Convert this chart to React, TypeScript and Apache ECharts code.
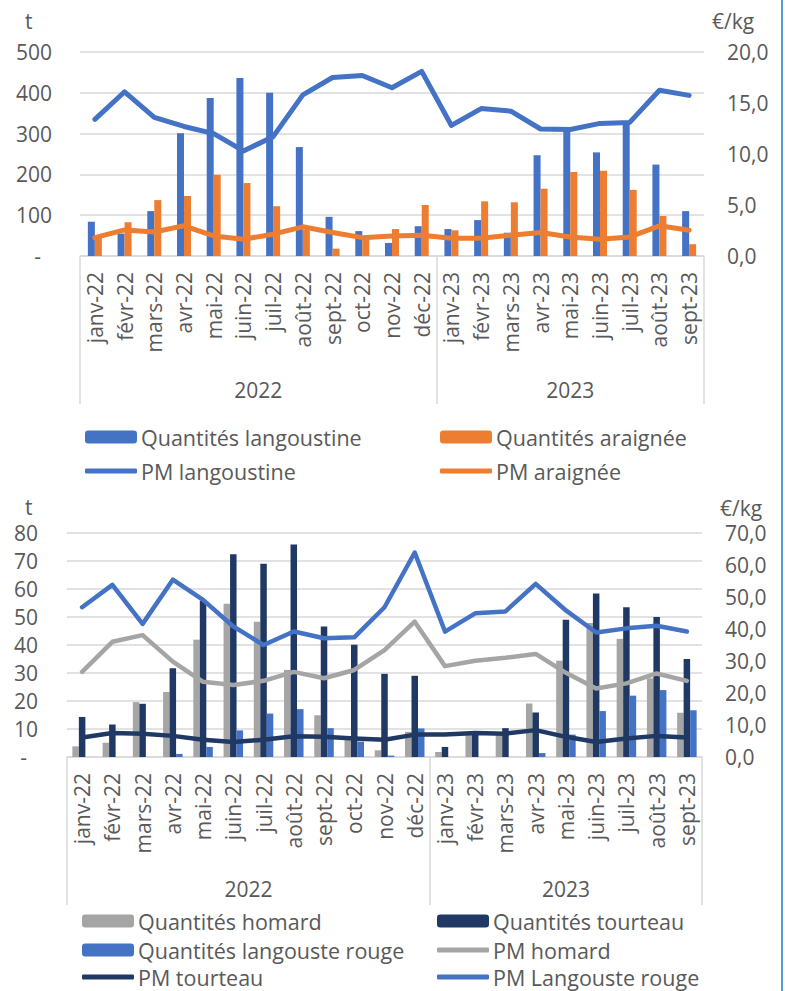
import React, { useEffect, useRef } from 'react';
import * as echarts from 'echarts';

const months = ['janv-22','févr-22','mars-22','avr-22','mai-22','juin-22','juil-22','août-22','sept-22','oct-22','nov-22','déc-22','janv-23','févr-23','mars-23','avr-23','mai-23','juin-23','juil-23','août-23','sept-23'];
const years = ['2022', '2023'];

// Top chart
const qLangoustine = [84,55,110,301,387,436,400,267,96,61,32,73,66,88,57,247,310,254,326,224,110];
const qAraignee = [50,83,137,147,199,179,122,65,18,45,66,125,63,134,132,165,206,209,162,98,29];
const pmLangoustine = [13.4,16.1,13.6,12.7,12.0,10.3,11.7,15.8,17.5,17.7,16.5,18.1,12.8,14.45,14.2,12.45,12.4,13.0,13.1,16.25,15.75];
const pmAraignee = [1.8,2.56,2.36,2.96,1.97,1.64,2.14,2.86,2.3,1.8,1.97,2.04,1.74,1.74,2.04,2.3,1.87,1.64,1.87,2.96,2.53];

// Bottom chart
const qHomard = [3.8,5.1,19.6,23.2,41.9,54.7,48.3,31.1,14.9,6.7,2.4,9.0,1.8,8.0,8.0,19.1,34.4,47.9,42.2,28.1,15.8];
const qTourteau = [14.3,11.6,19.0,31.7,55.8,72.4,69.0,75.9,46.6,40.1,29.7,29.0,3.6,8.5,10.3,15.9,49.0,58.4,53.5,50.0,35.0];
const qLangouste = [0,0,0,1.1,3.6,9.5,15.5,17.1,10.3,5.5,0.5,10.2,0,0,0,1.4,8.0,16.4,21.9,23.9,16.7];
const pmHomard = [26.6,36.0,38.1,29.8,23.5,22.5,23.8,26.6,24.6,27.2,33.4,42.3,28.4,30.1,31.0,32.2,26.3,21.4,23.0,26.1,23.8];
const pmTourteau = [6.1,7.5,7.3,6.6,5.4,4.7,5.4,6.5,6.3,5.8,5.4,7.0,7.0,7.5,7.3,8.4,6.3,4.7,5.8,6.6,6.1];
const pmLangouste = [46.8,53.8,41.6,55.4,49.1,40.8,35.0,39.2,37.1,37.4,46.8,63.9,39.2,44.9,45.5,54.1,45.8,38.9,40.2,41.0,39.2];

const FONT = 'Open Sans';
const TXT = '#595959';
const GRID = '#d9d9d9';
const BLUE = '#4472C4';
const ORANGE = '#ED7D31';
const GRAY = '#A5A5A5';
const NAVY = '#203864';

const yearSplit = [0, 12, 21];
const yearCenters = [6, 16.5];

function monthAxis(gridIndex: number) {
  return {
    type: 'category', gridIndex, data: months, boundaryGap: true,
    axisLine: { lineStyle: { color: GRID, width: 1.5 } },
    axisTick: { show: false },
    axisLabel: { rotate: 90, fontSize: 21, margin: 16, color: TXT, fontFamily: FONT },
  };
}
function yearAxis(gridIndex: number, tickLen: number, labelMargin: number) {
  return {
    type: 'value', gridIndex, min: 0, max: 21, position: 'bottom',
    axisLine: { show: false }, splitLine: { show: false },
    axisTick: { show: true, customValues: yearSplit, length: tickLen, lineStyle: { color: GRID, width: 1.5 } },
    axisLabel: {
      customValues: yearCenters, margin: labelMargin, fontSize: 21, color: TXT, fontFamily: FONT,
      formatter: (v: number) => (v < 12 ? years[0] : years[1]),
    },
  };
}
const leftFmt = (v: number) => (v === 0 ? '-  ' : String(v));
const rightFmt = (v: number) => v.toFixed(1).replace('.', ',');

function legend(name: string, left: number, cy: number, isLine: boolean) {
  return {
    data: [{ name, icon: 'roundRect' }], left, top: cy - 13, padding: 0,
    itemWidth: 52, itemHeight: isLine ? 5 : 13, itemGap: 0,
    textStyle: { fontSize: 21.5, color: TXT, fontFamily: FONT, lineHeight: 26, padding: [0, 0, 0, -1] },
  };
}
function unitText(text: string, left: number, top: number) {
  return { type: 'text', left, top, style: { text, fontSize: 21, lineHeight: 18, fill: TXT, fontFamily: FONT } };
}

export default function App() {
  const ref = useRef<HTMLDivElement>(null);
  useEffect(() => {
    if (!ref.current) return;
    const chart = echarts.init(ref.current, undefined, { renderer: 'svg' });
    const lineCommon = { type: 'line', symbol: 'none', smooth: false, z: 5 };
    chart.setOption({
      animation: false,
      textStyle: { fontFamily: FONT },
      grid: [
        { left: 80, right: 81, top: 52, height: 204 },
        { left: 67, right: 83, top: 533, height: 224 },
      ],
      xAxis: [monthAxis(0), yearAxis(0, 148, 123), monthAxis(1), yearAxis(1, 148, 121)],
      yAxis: [
        { type: 'value', gridIndex: 0, min: 0, max: 500, interval: 100,
          axisLine: { show: false }, axisTick: { show: false },
          splitLine: { lineStyle: { color: GRID, width: 1.5 } },
          axisLabel: { formatter: leftFmt, fontSize: 21, margin: 28, color: TXT, fontFamily: FONT } },
        { type: 'value', gridIndex: 0, position: 'right', min: 0, max: 20, interval: 5,
          axisLine: { show: false }, axisTick: { show: false }, splitLine: { show: false },
          axisLabel: { formatter: rightFmt, fontSize: 21, margin: 23, color: TXT, fontFamily: FONT } },
        { type: 'value', gridIndex: 1, min: 0, max: 80, interval: 10,
          axisLine: { show: false }, axisTick: { show: false },
          splitLine: { lineStyle: { color: GRID, width: 1.5 } },
          axisLabel: { formatter: leftFmt, fontSize: 21, margin: 29, color: TXT, fontFamily: FONT } },
        { type: 'value', gridIndex: 1, position: 'right', min: 0, max: 70, interval: 10,
          axisLine: { show: false }, axisTick: { show: false }, splitLine: { show: false },
          axisLabel: { formatter: rightFmt, fontSize: 21, margin: 23, color: TXT, fontFamily: FONT } },
      ],
      legend: [
        legend('Quantités langoustine', 85, 437, false),
        legend('PM langoustine', 85, 471, true),
        legend('Quantités araignée', 440, 437, false),
        legend('PM araignée', 440, 471, true),
        legend('Quantités homard', 82, 921, false),
        legend('Quantités langouste rouge', 82, 950, false),
        legend('PM tourteau', 82, 977, true),
        legend('Quantités tourteau', 437, 921, false),
        legend('PM homard', 437, 950, true),
        legend('PM Langouste rouge', 437, 977, true),
      ],
      series: [
        { name: 'Quantités langoustine', type: 'bar', xAxisIndex: 0, yAxisIndex: 0, data: qLangoustine,
          barWidth: 7, barGap: '0%', itemStyle: { color: BLUE } },
        { name: 'Quantités araignée', type: 'bar', xAxisIndex: 0, yAxisIndex: 0, data: qAraignee,
          barWidth: 7, barGap: '0%', itemStyle: { color: ORANGE } },
        { ...lineCommon, name: 'PM langoustine', xAxisIndex: 0, yAxisIndex: 1, data: pmLangoustine,
          itemStyle: { color: BLUE }, lineStyle: { color: BLUE, width: 5, cap: 'round', join: 'round' } },
        { ...lineCommon, name: 'PM araignée', xAxisIndex: 0, yAxisIndex: 1, data: pmAraignee,
          itemStyle: { color: ORANGE }, lineStyle: { color: ORANGE, width: 5, cap: 'round', join: 'round' } },

        { name: 'Quantités homard', type: 'bar', xAxisIndex: 2, yAxisIndex: 2, data: qHomard,
          barWidth: 6.5, barGap: '0%', itemStyle: { color: GRAY } },
        { name: 'Quantités tourteau', type: 'bar', xAxisIndex: 2, yAxisIndex: 2, data: qTourteau,
          barWidth: 6.5, barGap: '0%', itemStyle: { color: NAVY } },
        { name: 'Quantités langouste rouge', type: 'bar', xAxisIndex: 2, yAxisIndex: 2, data: qLangouste,
          barWidth: 6.5, barGap: '0%', itemStyle: { color: BLUE } },
        { ...lineCommon, name: 'PM homard', xAxisIndex: 2, yAxisIndex: 3, data: pmHomard,
          itemStyle: { color: GRAY }, lineStyle: { color: GRAY, width: 4.5, cap: 'round', join: 'round' } },
        { ...lineCommon, name: 'PM tourteau', xAxisIndex: 2, yAxisIndex: 3, data: pmTourteau,
          itemStyle: { color: NAVY }, lineStyle: { color: NAVY, width: 4.5, cap: 'round', join: 'round' } },
        { ...lineCommon, name: 'PM Langouste rouge', xAxisIndex: 2, yAxisIndex: 3, data: pmLangouste,
          itemStyle: { color: BLUE }, lineStyle: { color: BLUE, width: 4.5, cap: 'round', join: 'round' } },
      ],
      graphic: [
        unitText('t', 25, 10),
        unitText('€/kg', 712, 10),
        unitText('t', 25, 496),
        unitText('€/kg', 720, 497),
        { type: 'rect', shape: { x: 781, y: 0, width: 2, height: 991 }, style: { fill: '#5B9BD5' } },
      ],
    });
    return () => chart.dispose();
  }, []);
  return <div ref={ref} style={{ position: 'fixed', left: 0, top: 0, width: 785, height: 991, background: '#fff' }} />;
}
